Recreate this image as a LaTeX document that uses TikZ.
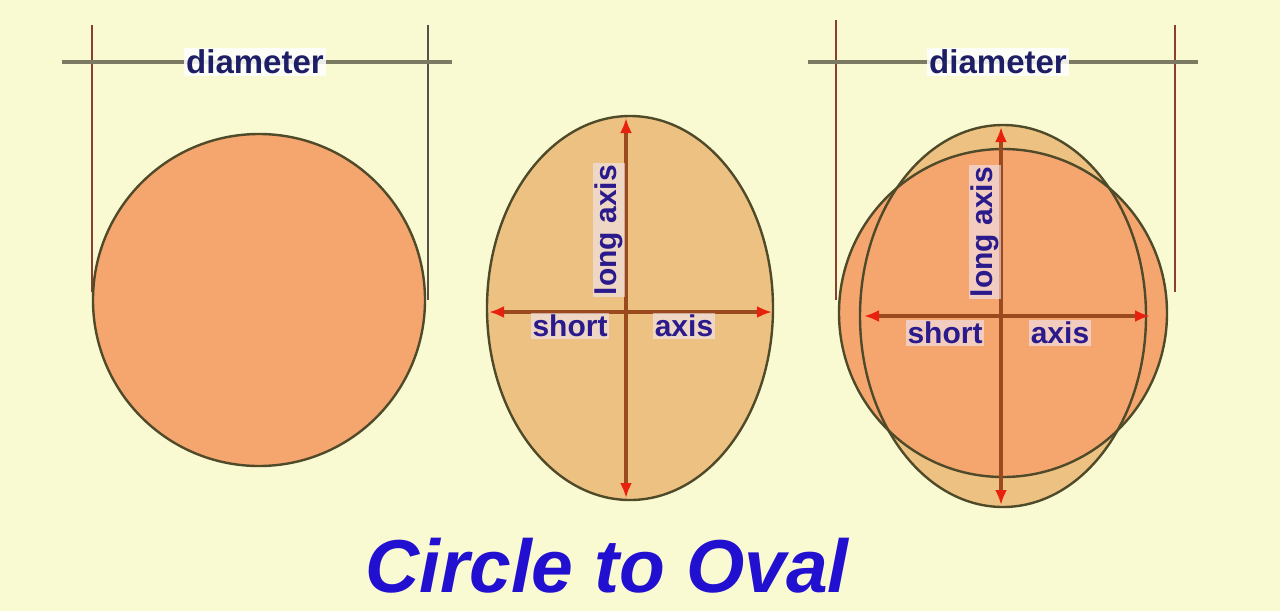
\documentclass[tikz,border=0pt]{standalone}
\usepackage{fontspec}
\setmainfont{Liberation Sans}
\usetikzlibrary{arrows.meta}
\definecolor{bg}{HTML}{FAFAD2}
\definecolor{circfill}{HTML}{F4A66E}
\definecolor{ovalfill}{HTML}{EDC181}
\definecolor{outline}{HTML}{4E4A2A}
\definecolor{dimgrey}{HTML}{7C7A62}
\definecolor{vbrown}{HTML}{8E3E2C}
\definecolor{vgrey}{HTML}{5A5048}
\definecolor{axisline}{HTML}{9A4A1C}
\definecolor{tipred}{HTML}{E8200E}
\definecolor{labelblue}{HTML}{2A1A8C}
\definecolor{labelbg}{HTML}{F1E6F4}
\definecolor{dianavy}{HTML}{1E1E66}
\definecolor{titleblue}{HTML}{2210D0}
\tikzset{
  dimline/.style={draw=dimgrey, line width=3.5pt},
  leftv/.style={draw=vbrown, line width=2.2pt},
  rightv/.style={draw=vgrey, line width=2.2pt},
  shapeline/.style={draw=outline, line width=2.4pt},
  axisarrow/.style={draw=axisline, line width=3.2pt,
    {Latex[length=15pt,width=12pt,color=tipred]}-{Latex[length=15pt,width=12pt,color=tipred]}},
  dialabel/.style={font=\bfseries\fontsize{33}{33}\selectfont, text=dianavy,
    fill=white, fill opacity=0.85, text opacity=1, inner sep=2pt},
  axislabel/.style={font=\bfseries\fontsize{30}{30}\selectfont, text=labelblue,
    fill=labelbg, fill opacity=0.6, text opacity=1, inner sep=1.5pt},
  titlelabel/.style={font=\bfseries\itshape\fontsize{75}{75}\selectfont, text=titleblue}
}
\begin{document}
\begin{tikzpicture}[x=1pt,y=-1pt]
\fill[bg] (0,0) rectangle (1280,611);
\useasboundingbox (0,0) rectangle (1280,611);

% ---------- left panel: circle ----------
\coordinate (LvA1) at (92,25);   \coordinate (LvA2) at (92,292);
\coordinate (LvB1) at (428,25);  \coordinate (LvB2) at (428,300);
\coordinate (LhA) at (62,62);    \coordinate (LhB) at (452,62);
\draw[leftv] (LvA1) -- (LvA2);
\draw[rightv] (LvB1) -- (LvB2);
\draw[dimline] (LhA) -- (LhB);
\node[dialabel] (diaL) at (255,62) {diameter};
\draw[shapeline, fill=circfill] (259,300) circle [radius=166];

% ---------- middle panel: oval ----------
\draw[shapeline, fill=ovalfill] (630,308) ellipse [x radius=143, y radius=192];
\coordinate (MvT) at (626,118);  \coordinate (MvB) at (626,498);
\coordinate (MhL) at (489,312);  \coordinate (MhR) at (772,312);
\draw[axisarrow] (MvB) -- (MvT);
\draw[axisarrow] (MhL) -- (MhR);
\node[axislabel, rotate=90] (longM) at (609,230) {long axis};
\node[axislabel] (shortM) at (570,326) {short};
\node[axislabel] (axisM) at (684,326) {axis};

% ---------- right panel: circle over oval ----------
\coordinate (RvA1) at (836,20);   \coordinate (RvA2) at (836,300);
\coordinate (RvB1) at (1175,25);  \coordinate (RvB2) at (1175,292);
\coordinate (RhA) at (808,62);    \coordinate (RhB) at (1198,62);
\draw[leftv] (RvA1) -- (RvA2);
\draw[leftv] (RvB1) -- (RvB2);
\draw[dimline] (RhA) -- (RhB);
\node[dialabel] (diaR) at (998,62) {diameter};
\fill[ovalfill] (1003,316) ellipse [x radius=143, y radius=191];
\draw[shapeline, fill=circfill] (1003,313) circle [radius=164];
\draw[shapeline] (1003,316) ellipse [x radius=143, y radius=191];
\coordinate (RvT) at (1001,127);  \coordinate (RvB) at (1001,505);
\coordinate (RhL) at (864,316);   \coordinate (RhR) at (1150,316);
\draw[axisarrow] (RvB) -- (RvT);
\draw[axisarrow] (RhL) -- (RhR);
\node[axislabel, rotate=90] (longR) at (985,232) {long axis};
\node[axislabel] (shortR) at (945,333) {short};
\node[axislabel] (axisR) at (1060,333) {axis};

% ---------- title ----------
\node[titlelabel] (title) at (607,566) {Circle to Oval};
\end{tikzpicture}
\end{document}
